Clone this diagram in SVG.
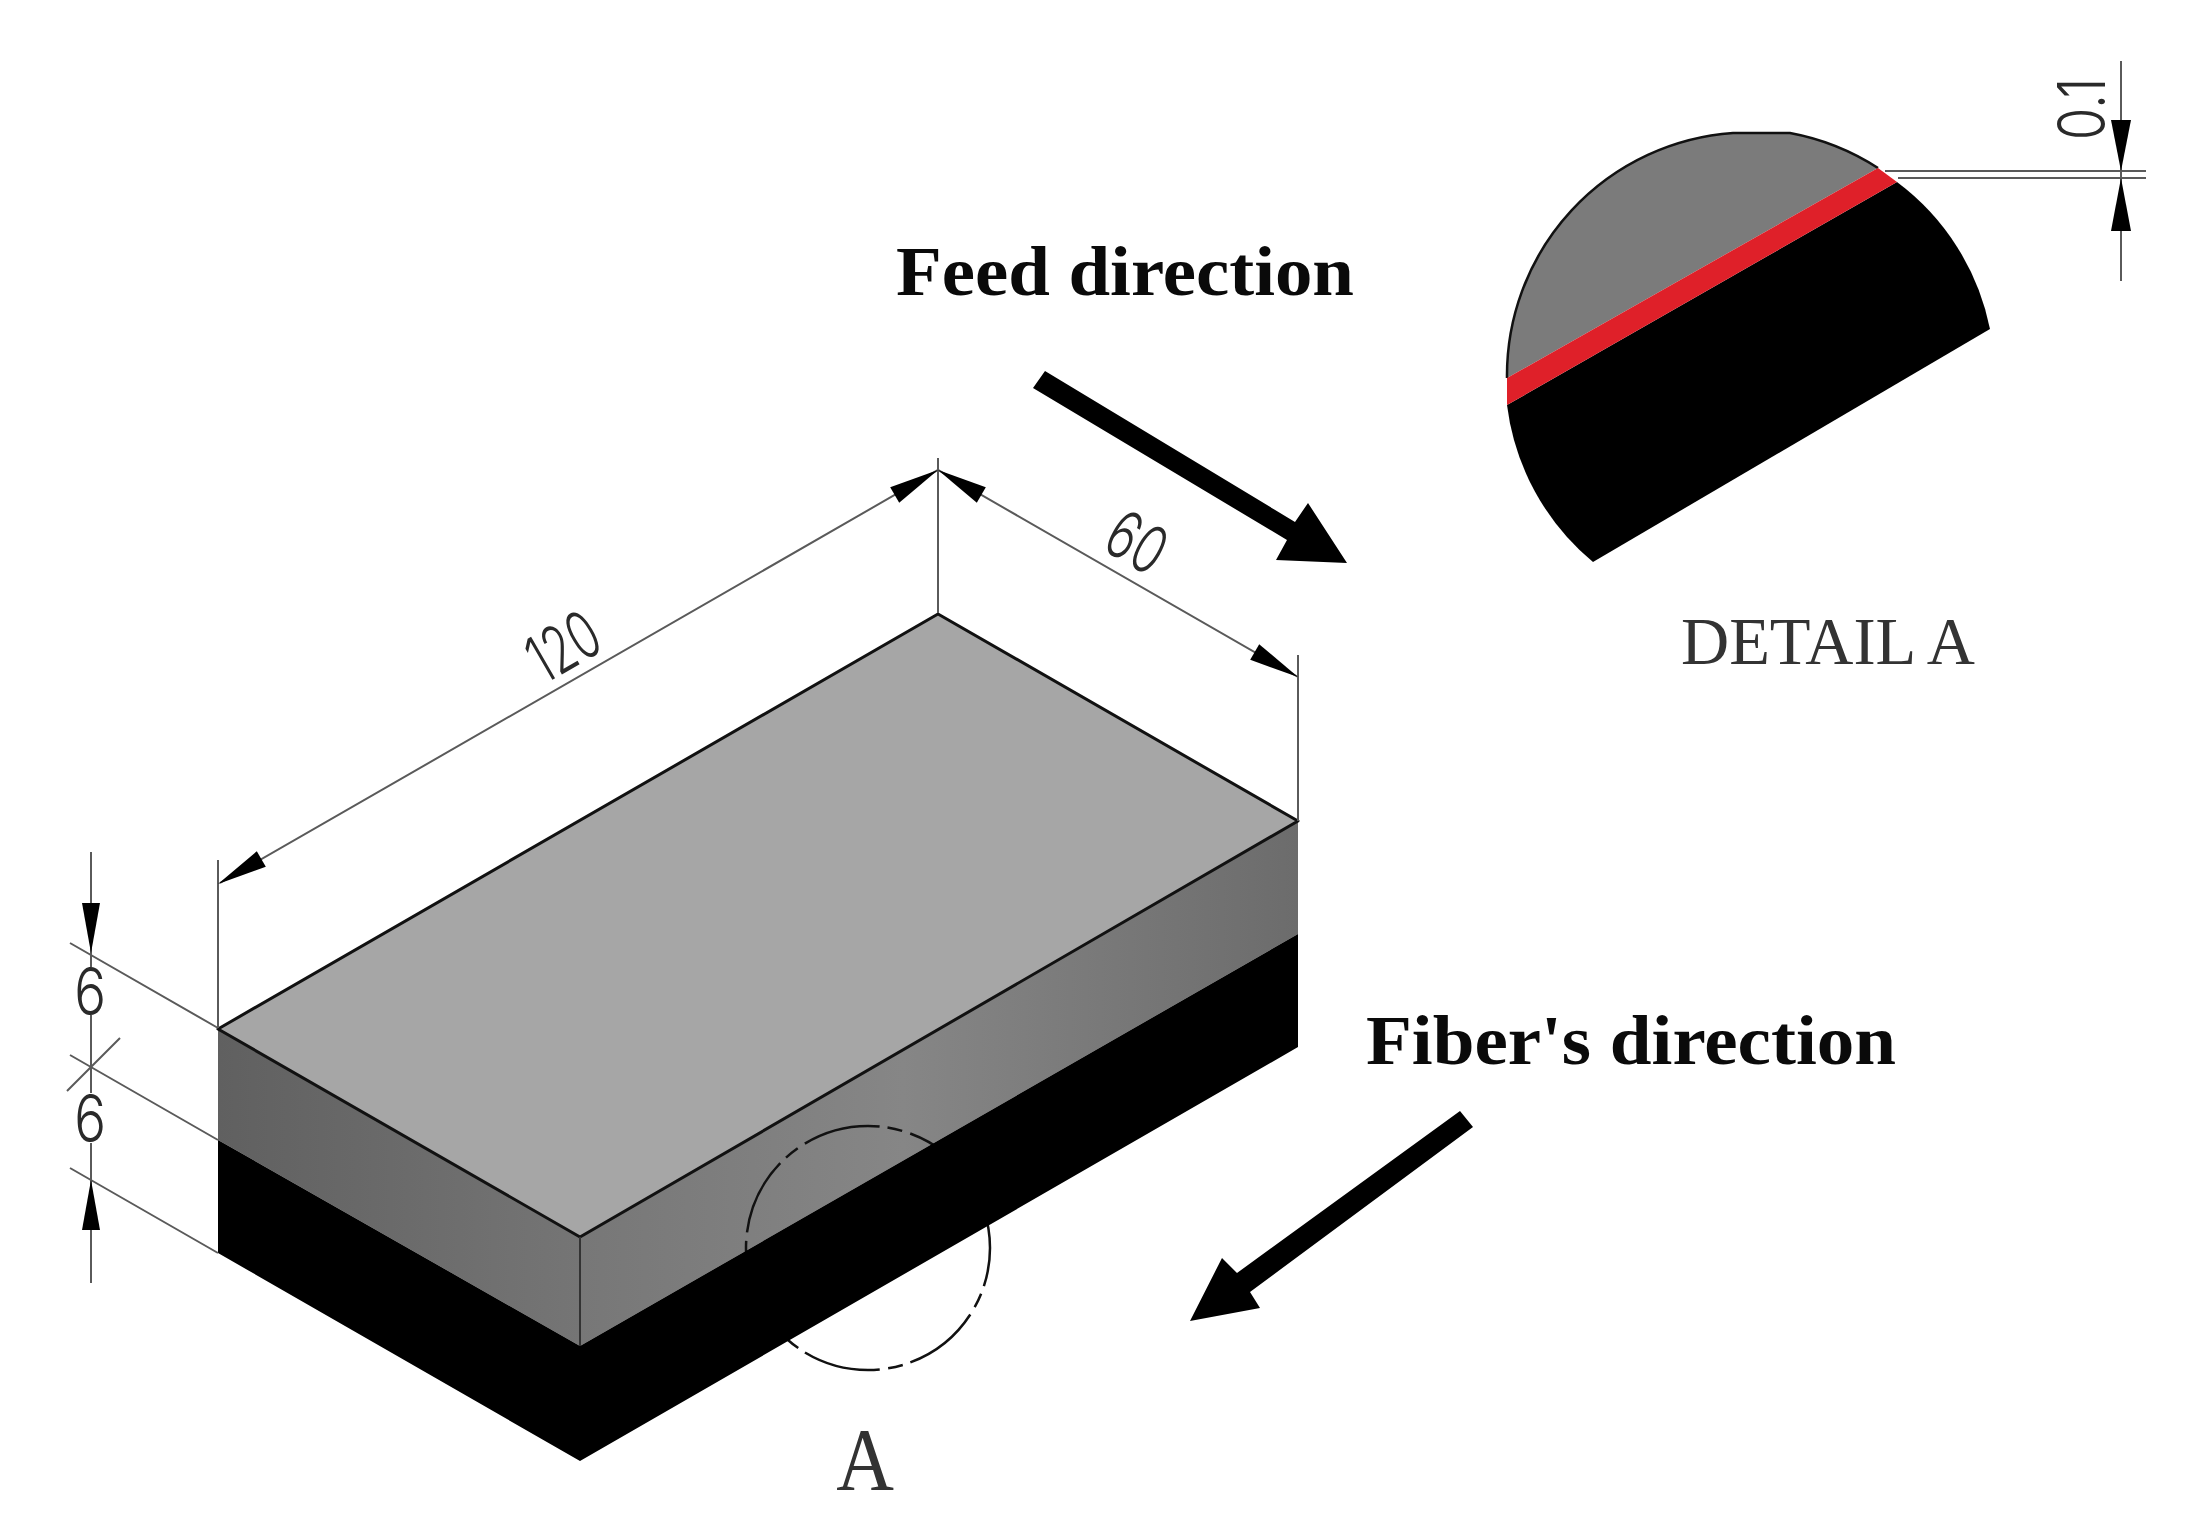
<svg xmlns="http://www.w3.org/2000/svg" width="2196" height="1528" viewBox="0 0 2196 1528">
<style>
.dim{stroke:#5a5a5a;stroke-width:2;fill:none}
.edge{stroke:#111;stroke-width:3;stroke-linejoin:round}
.num{font-family:"Inter","Roboto","Liberation Sans",sans-serif;font-weight:300;font-size:66px;fill:#2a2a2a;text-anchor:middle}
.bold{font-family:"Liberation Serif",serif;font-weight:bold;font-size:70px;fill:#0a0a0a}
.serif{font-family:"Liberation Serif",serif;fill:#333}
</style>
<defs>
<linearGradient id="gl" x1="0" x2="1" y1="0" y2="0"><stop offset="0" stop-color="#606060"/><stop offset="1" stop-color="#757575"/></linearGradient>
<linearGradient id="gr" x1="0" x2="1" y1="0" y2="0"><stop offset="0" stop-color="#777"/><stop offset=".45" stop-color="#868686"/><stop offset="1" stop-color="#6c6c6c"/></linearGradient>
<polygon id="ah" points="0,0 -50,-9 -50,9" fill="#000"/>
</defs>
<rect width="2196" height="1528" fill="#fff"/>
<g id="block">
<polygon points="218,1029 580,1237 580,1346 218,1140" fill="url(#gl)"/>
<polygon points="580,1237 1298,821 1298,934 580,1346" fill="url(#gr)"/>
<circle id="detail-circle" cx="868" cy="1248" r="122" fill="none" stroke="#111" stroke-width="2.5" stroke-dasharray="78 8 15 8.5" stroke-dashoffset="39.2"/>
<polygon points="218,1140 580,1346 1298,934 1298,1047 580,1461 218,1253" fill="#000"/>
<polygon points="938,614 1298,821 580,1237 218,1029" fill="#a6a6a6" class="edge"/>
<path d="M580,1237V1346" stroke="#333" stroke-width="2" fill="none"/>
</g>
<g id="connectors">
<path class="dim" d="M938,458V613M1298,655V821M218,860V1028"/>
<path class="dim" d="M220,883L938,470L1298,677"/>
<path class="dim" d="M70,943L218,1028M70,1055L218,1140M70,1168L218,1253"/>
<path class="dim" d="M91,852V967M91,1015V1093M91,1143V1283M67,1091L120,1038"/>
<use href="#ah" transform="translate(218,884) rotate(150)"/>
<use href="#ah" transform="translate(938,470) rotate(-30)"/>
<use href="#ah" transform="translate(938,470) rotate(210)"/>
<use href="#ah" transform="translate(1298,677) rotate(30)"/>
<use href="#ah" transform="translate(91,953) rotate(90)"/>
<use href="#ah" transform="translate(91,1180) rotate(-90)"/>
<polygon id="feed-arrow" points="1033,388 1045,371 1295,522 1308,503 1347,563 1276,560 1287,540" fill="#000"/>
<polygon id="fiber-arrow" points="1460,1111 1473,1127 1250,1292 1260,1308 1190,1321 1222,1258 1237,1273" fill="#000"/>
</g>
<g id="dim-labels">
<text class="num" transform="translate(563,646) rotate(-30) scale(.68,1)" y="24">120</text>
<text class="num" transform="translate(1137,542) rotate(30) scale(.72,1)" y="24">60</text>
<text class="num" transform="translate(90,991) scale(.8,1)" y="24">6</text>
<text class="num" transform="translate(90,1118) scale(.8,1)" y="24">6</text>
</g>
<g id="detail-a">
<path fill="#7b7b7b" d="M1507,378A243,243 0 0 1 1733,133L1790,133A245,245 0 0 1 1878,168Z"/>
<path fill="none" stroke="#111" stroke-width="2.5" d="M1507,378A243,243 0 0 1 1733,133L1790,133A245,245 0 0 1 1878,168"/>
<path fill="#000" d="M1507,405L1897,182A243,243 0 0 1 1990,329L1593,562A243,243 0 0 1 1507,405Z"/>
<polygon points="1507,378 1878,168 1897,182 1507,405" fill="#df2029"/>
<path class="dim" d="M2121,61V281M1885,171H2146M1898,178H2146"/>
<polygon points="2121,171 2111,120 2131,120" fill="#000"/>
<polygon points="2121,178 2111,231 2131,231" fill="#000"/>
<text class="num" transform="translate(2105,109) rotate(-90) scale(.8,1)">0.1</text>
<text class="serif" x="1681" y="664" font-size="68" textLength="294" lengthAdjust="spacingAndGlyphs">DETAIL A</text>
</g>
<g id="labels">
<text class="bold" x="896" y="295" textLength="458" lengthAdjust="spacingAndGlyphs">Feed direction</text>
<text class="bold" x="1366" y="1064" textLength="530" lengthAdjust="spacingAndGlyphs">Fiber's direction</text>
<text class="serif" fill="#222" transform="translate(865,1489) scale(1,1.12)" font-size="80" text-anchor="middle">A</text>
</g>
</svg>
